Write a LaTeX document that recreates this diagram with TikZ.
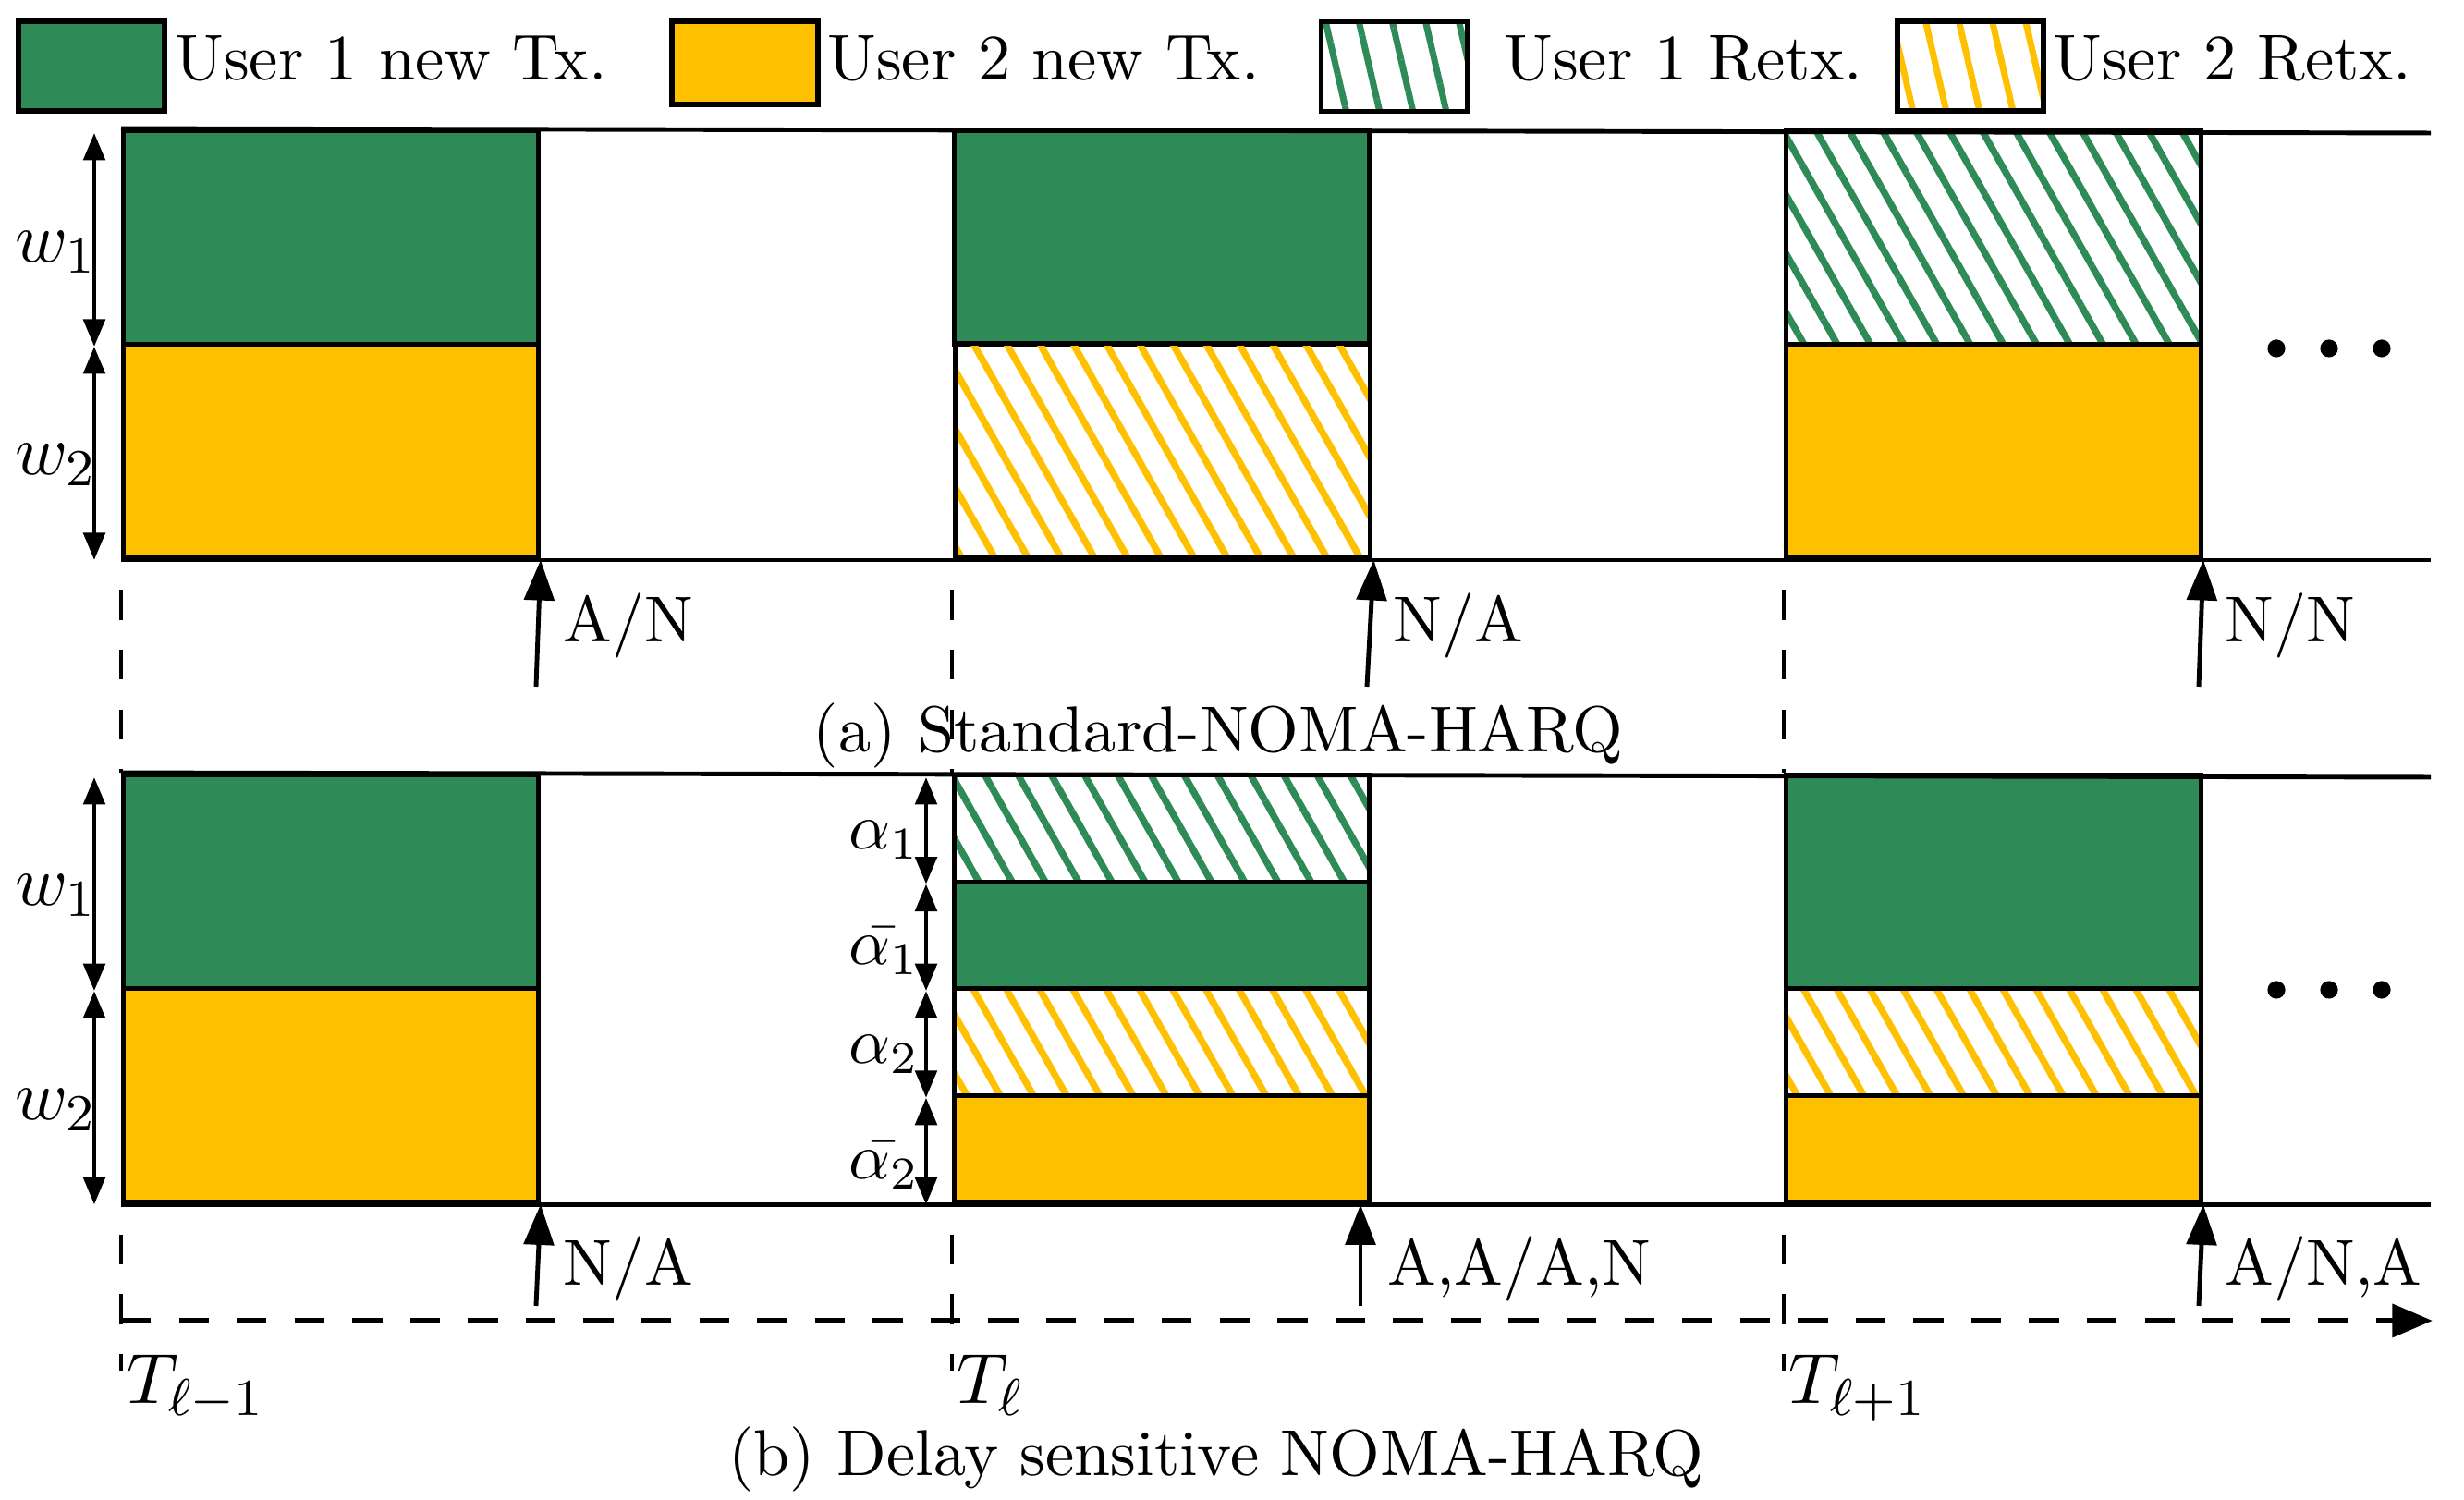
\documentclass[tikz,border=0pt]{standalone}
\usepackage{amsmath}
\usepackage{amssymb}
\usetikzlibrary{arrows.meta,patterns.meta}

\definecolor{ugreen}{RGB}{46,139,87}
\definecolor{uyellow}{RGB}{255,192,0}

\tikzset{
  blk/.style={draw=black,line width=0.7pt,inner sep=0pt,anchor=south west,
    minimum width=2.245cm},
  newone/.style={blk,fill=ugreen},
  newtwo/.style={blk,fill=uyellow},
  retxone/.style={blk,pattern={Lines[angle=-60.5,distance=4.45pt,line width=1.05pt]},pattern color=ugreen},
  retxtwo/.style={blk,pattern={Lines[angle=-60.5,distance=4.45pt,line width=1.05pt]},pattern color=uyellow},
  legbox/.style={draw=black,line width=0.8pt,inner sep=0pt,anchor=north west,
    minimum width=0.79cm},
  frame/.style={line width=0.7pt},
  dimarrow/.style={{Triangle[length=4.2pt,width=3.3pt]}-{Triangle[length=4.2pt,width=3.3pt]},line width=0.7pt},
  fbarrow/.style={-{Triangle[length=6.2pt,width=4.6pt]},line width=0.7pt},
  slotline/.style={line width=0.55pt,dash pattern=on 4.6pt off 4.6pt,dash phase=-4.6pt},
  timeaxis/.style={-{Triangle[length=6.2pt,width=5pt]},line width=0.9pt,dash pattern=on 4.6pt off 4.3pt},
  fblabel/.style={anchor=base west,inner sep=0pt},
}

\begin{document}
\begin{tikzpicture}
\useasboundingbox (0,0) rectangle (13.33,8.115);

% legend
\node[legbox,fill=ugreen,minimum height=0.485cm] (lg1) at (0.085,8.015) {};
\node[fblabel] (lt1) at (0.94,7.68) {User 1 new Tx.};
\node[legbox,fill=uyellow,minimum height=0.45cm] (lg2) at (3.62,8.015) {};
\node[fblabel] (lt2) at (4.47,7.68) {User 2 new Tx.};
\node[legbox,minimum height=0.485cm,pattern={Lines[angle=-77,distance=5pt,line width=1pt]},pattern color=ugreen] (lg3) at (7.13,8.015) {};
\node[fblabel] (lt3) at (8.13,7.68) {User 1 Retx.};
\node[legbox,minimum height=0.485cm,pattern={Lines[angle=-77,distance=5pt,line width=1pt]},pattern color=uyellow] (lg4) at (10.25,8.015) {};
\node[fblabel] (lt4) at (11.10,7.68) {User 2 Retx.};

% (a) standard NOMA-HARQ
\node[newone,minimum height=1.155cm] (a1u) at (0.655,6.24) {};
\node[newtwo,minimum height=1.155cm] (a1l) at (0.655,5.085) {};
\node[newone,minimum height=1.155cm] (a2u) at (5.15,6.24) {};
\node[retxtwo,minimum height=1.155cm] (a2l) at (5.15,5.085) {};
\node[retxone,minimum height=1.155cm] (a3u) at (9.65,6.24) {};
\node[newtwo,minimum height=1.155cm] (a3l) at (9.65,5.085) {};
\coordinate (atr) at (13.15,7.395);
\coordinate (abr) at (13.15,5.085);
\draw[frame] (a1u.north west) -- (atr);
\draw[frame] (a1l.south west) -- (abr);

\coordinate (wa) at (0.51,7.395);
\coordinate (wb) at (0.51,6.24);
\coordinate (wc) at (0.51,5.085);
\draw[dimarrow] (wa) -- (wb);
\draw[dimarrow] (wb) -- (wc);
\node[anchor=east,inner sep=0pt,font=\fontsize{11}{13}\selectfont] (aw1) at (0.53,6.75) {$w_1$};
\node[anchor=east,inner sep=0pt,font=\fontsize{11}{13}\selectfont] (aw2) at (0.53,5.6) {$w_2$};

\coordinate (fa1) at (2.90,4.40);
\coordinate (fa2) at (7.395,4.40);
\coordinate (fa3) at (11.895,4.40);
\draw[fbarrow] (fa1) -- (a1l.south east);
\draw[fbarrow] (fa2) -- (a2l.south east);
\draw[fbarrow] (fa3) -- (a3l.south east);
\node[fblabel] (fb1) at (3.04,4.64) {A/N};
\node[fblabel] (fb2) at (7.53,4.64) {N/A};
\node[fblabel] (fb3) at (12.03,4.64) {N/N};

\foreach \x in {12.315,12.6,12.885}
  \fill (\x,6.23) circle (0.048);

\node[anchor=base] (capa) at (6.59,4.045) {(a) Standard-NOMA-HARQ};

% (b) delay sensitive NOMA-HARQ
\node[newone,minimum height=1.156cm] (b1u) at (0.655,2.754) {};
\node[newtwo,minimum height=1.156cm] (b1l) at (0.655,1.598) {};
\node[retxone,minimum height=0.578cm] (b2a) at (5.15,3.332) {};
\node[newone,minimum height=0.578cm] (b2b) at (5.15,2.754) {};
\node[retxtwo,minimum height=0.578cm] (b2c) at (5.15,2.176) {};
\node[newtwo,minimum height=0.578cm] (b2d) at (5.15,1.598) {};
\node[newone,minimum height=1.156cm] (b3u) at (9.65,2.754) {};
\node[retxtwo,minimum height=0.578cm] (b3c) at (9.65,2.176) {};
\node[newtwo,minimum height=0.578cm] (b3d) at (9.65,1.598) {};
\coordinate (btr) at (13.15,3.91);
\coordinate (bbr) at (13.15,1.598);
\draw[frame] (b1u.north west) -- (btr);
\draw[frame] (b1l.south west) -- (bbr);

\coordinate (wd) at (0.51,3.91);
\coordinate (we) at (0.51,2.754);
\coordinate (wf) at (0.51,1.598);
\draw[dimarrow] (wd) -- (we);
\draw[dimarrow] (we) -- (wf);
\node[anchor=east,inner sep=0pt,font=\fontsize{11}{13}\selectfont] (bw1) at (0.53,3.27) {$w_1$};
\node[anchor=east,inner sep=0pt,font=\fontsize{11}{13}\selectfont] (bw2) at (0.53,2.11) {$w_2$};

\coordinate (al0) at (5.01,3.91);
\coordinate (al1) at (5.01,3.332);
\coordinate (al2) at (5.01,2.754);
\coordinate (al3) at (5.01,2.176);
\coordinate (al4) at (5.01,1.598);
\draw[dimarrow] (al0) -- (al1);
\draw[dimarrow] (al1) -- (al2);
\draw[dimarrow] (al2) -- (al3);
\draw[dimarrow] (al3) -- (al4);
\node[anchor=east,inner sep=0pt] (ba1) at (4.98,3.57) {$\alpha_1$};
\node[anchor=east,inner sep=0pt] (bb1) at (4.98,2.97) {$\bar{\alpha_1}$};
\node[anchor=east,inner sep=0pt] (ba2) at (4.98,2.41) {$\alpha_2$};
\node[anchor=east,inner sep=0pt] (bb2) at (4.98,1.81) {$\bar{\alpha_2}$};

\coordinate (fb1a) at (2.90,1.05);
\coordinate (fb2a) at (7.36,1.05);
\coordinate (fb2b) at (7.36,1.598);
\coordinate (fb3a) at (11.895,1.05);
\draw[fbarrow] (fb1a) -- (b1l.south east);
\draw[fbarrow] (fb2a) -- (fb2b);
\draw[fbarrow] (fb3a) -- (b3d.south east);
\node[fblabel] (fc1) at (3.04,1.16) {N/A};
\node[fblabel] (fc2) at (7.50,1.16) {A,A/A,N};
\node[fblabel] (fc3) at (12.03,1.16) {A/N,A};

\foreach \x in {12.315,12.6,12.885}
  \fill (\x,2.76) circle (0.048);

% slot boundaries and time axis
\coordinate (t0) at (0.655,0.70);
\coordinate (t1) at (5.15,0.70);
\coordinate (t2) at (9.65,0.70);
\draw[slotline] (a1l.south west) -- (b1u.north west);
\draw[slotline] (a2l.south west) -- (b2a.north west);
\draw[slotline] (a3l.south west) -- (b3u.north west);
\draw[slotline] (b1l.south west) -- (t0);
\draw[slotline] (b2d.south west) -- (t1);
\draw[slotline] (b3d.south west) -- (t2);
\coordinate (ax0) at (0.655,0.97);
\coordinate (ax1) at (13.16,0.97);
\draw[timeaxis] (ax0) -- (ax1);

\node[fblabel,font=\fontsize{11}{13}\selectfont] (tl0) at (0.68,0.52) {$T_{\ell-1}$};
\node[fblabel,font=\fontsize{11}{13}\selectfont] (tl1) at (5.17,0.52) {$T_{\ell}$};
\node[fblabel,font=\fontsize{11}{13}\selectfont] (tl2) at (9.67,0.52) {$T_{\ell+1}$};

\node[anchor=base] (capb) at (6.58,0.13) {(b) Delay sensitive NOMA-HARQ};
\end{tikzpicture}
\end{document}
